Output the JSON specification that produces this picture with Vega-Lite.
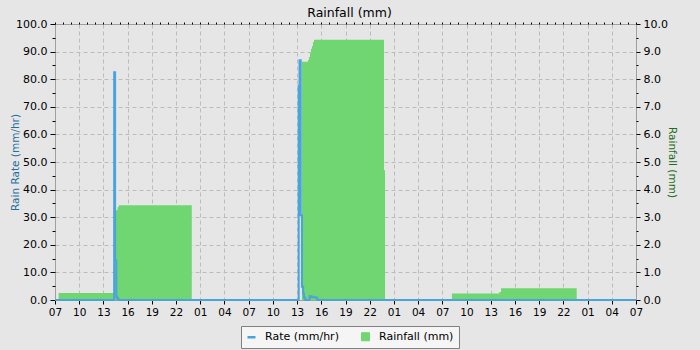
{
  "$schema": "https://vega.github.io/schema/vega-lite/v6.json",
  "autosize": {"type": "none"},
  "width": 581,
  "height": 276,
  "padding": {"left": 55, "top": 24, "right": 64, "bottom": 50},
  "background": "#e6e6e6",
  "title": {"text": "Rainfall (mm)", "fontSize": 12.5, "font": "DejaVu Sans", "fontWeight": "normal", "color": "#000000", "offset": 6, "dy": 7, "anchor": "middle", "dx": 4},
  "config": {
    "view": {"fill": "#e6e6e6", "stroke": "#a0a0a0", "strokeWidth": 1},
    "font": "DejaVu Sans",
    "axis": {"labelFont": "DejaVu Sans", "titleFont": "DejaVu Sans", "labelColor": "#000000", "tickColor": "#000000", "domain": false, "gridColor": "#bcbcbc", "gridDash": [4, 3], "gridWidth": 1, "titleFontWeight": "normal"},
    "legend": {"labelFont": "DejaVu Sans"}
  },
  "datasets": {
    "rainfall": [
      {"hour": 0.45, "rain": 0.25},
      {"hour": 7.45, "rain": 3.25},
      {"hour": 7.75, "rain": 3.37},
      {"hour": 7.9, "rain": 3.43},
      {"hour": 16.95, "rain": 0},
      {"hour": 30.6, "rain": 8.63},
      {"hour": 31.35, "rain": 8.7},
      {"hour": 31.47, "rain": 8.8},
      {"hour": 31.6, "rain": 8.95},
      {"hour": 31.72, "rain": 9.1},
      {"hour": 31.85, "rain": 9.2},
      {"hour": 31.97, "rain": 9.35},
      {"hour": 32.1, "rain": 9.43},
      {"hour": 40.77, "rain": 4.7},
      {"hour": 40.9, "rain": 0},
      {"hour": 49.19, "rain": 0.24},
      {"hour": 55.06, "rain": 0.29},
      {"hour": 55.27, "rain": 0.43},
      {"hour": 64.65, "rain": 0}
    ],
    "rate": [
      {"hour": 0, "rate": 0},
      {"hour": 7.33, "rate": 82.5},
      {"hour": 7.45, "rate": 14.4},
      {"hour": 7.6, "rate": 1.2},
      {"hour": 7.7, "rate": 0.5},
      {"hour": 7.85, "rate": 0},
      {"hour": 30.2, "rate": 77.5},
      {"hour": 30.3, "rate": 86.9},
      {"hour": 30.45, "rate": 30.7},
      {"hour": 30.6, "rate": 4.8},
      {"hour": 30.75, "rate": 2.4},
      {"hour": 30.85, "rate": 0.8},
      {"hour": 31.0, "rate": 0},
      {"hour": 31.55, "rate": 1.4},
      {"hour": 31.8, "rate": 1.0},
      {"hour": 32.25, "rate": 0.8},
      {"hour": 32.5, "rate": 0},
      {"hour": 72, "rate": 0}
    ]
  },
  "layer": [
    {
      "data": {"name": "rainfall"},
      "mark": {"type": "area", "interpolate": "step-after", "opacity": 1},
      "encoding": {
        "x": {
          "field": "hour", "type": "quantitative",
          "scale": {"domain": [0, 72], "nice": false, "zero": false},
          "axis": {
            "title": null,
            "values": [0,3,6,9,12,15,18,21,24,27,30,33,36,39,42,45,48,51,54,57,60,63,66,69,72],
            "labelExpr": "format((datum.value + 7) % 24, '02d')",
            "labelOverlap": false,
            "labelFlush": false,
            "labelFontSize": 10.5,
            "labelPadding": 3,
            "tickSize": 4,
            "grid": true,
            "gridOpacity": {"condition": {"test": "datum.value > 0 && datum.value < 72", "value": 1}, "value": 0}
          }
        },
        "y": {
          "field": "rain", "type": "quantitative",
          "scale": {"domain": [0, 10], "nice": false},
          "axis": {
            "orient": "right",
            "title": "Rainfall (mm)",
            "titleColor": "#226a22",
            "titleFontSize": 10.5,
            "titlePadding": -1,
            "values": [0,0.5,1,1.5,2,2.5,3,3.5,4,4.5,5,5.5,6,6.5,7,7.5,8,8.5,9,9.5,10],
            "labelExpr": "round(datum.value * 2) % 2 === 0 ? format(datum.value, '.1f') : ''",
            "labelFontSize": 11,
            "labelPadding": 3,
            "tickSize": {"condition": {"test": "round(datum.value * 2) % 2 === 0", "value": 4}, "value": 2},
            "grid": false
          }
        },
        "color": {
          "datum": "Rainfall (mm)",
          "type": "nominal",
          "scale": {"domain": ["Rate (mm/hr)", "Rainfall (mm)"], "range": ["#4aa3dc", "#6fd671"]},
          "legend": {
            "title": null,
            "orient": "none",
            "legendX": 186,
            "legendY": 302,
            "direction": "horizontal",
            "fillColor": "#f5f5f5",
            "strokeColor": "#808080",
            "padding": 5,
            "columnPadding": 20,
            "labelFontSize": 11,
            "labelOffset": 8,
            "symbolSize": 64,
            "symbolType": "square",
            "encode": {
              "symbols": {
                "update": {
                  "shape": {"signal": "datum.value === 'Rate (mm/hr)' ? 'stroke' : 'square'"},
                  "fill": {"signal": "datum.value === 'Rate (mm/hr)' ? 'transparent' : '#6fd671'"},
                  "stroke": {"signal": "datum.value === 'Rate (mm/hr)' ? '#4aa3dc' : '#707070'"},
                  "strokeWidth": {"signal": "datum.value === 'Rate (mm/hr)' ? 2.5 : 1"},
                  "opacity": {"value": 1}
                }
              }
            }
          }
        }
      }
    },
    {
      "data": {"name": "rate"},
      "mark": {"type": "line", "interpolate": "step-after", "strokeWidth": 2},
      "encoding": {
        "x": {
          "field": "hour", "type": "quantitative",
          "scale": {"domain": [0, 72], "nice": false, "zero": false},
          "axis": {
            "title": null,
            "values": [0,1,2,3,4,5,6,7,8,9,10,11,12,13,14,15,16,17,18,19,20,21,22,23,24,25,26,27,28,29,30,31,32,33,34,35,36,37,38,39,40,41,42,43,44,45,46,47,48,49,50,51,52,53,54,55,56,57,58,59,60,61,62,63,64,65,66,67,68,69,70,71,72],
            "labels": false,
            "grid": false,
            "tickSize": 2
          }
        },
        "y": {
          "field": "rate", "type": "quantitative",
          "scale": {"domain": [0, 100], "nice": false},
          "axis": {
            "orient": "left",
            "title": "Rain Rate (mm/hr)",
            "titleColor": "#1f6f9f",
            "titleFontSize": 10.5,
            "titlePadding": -5,
            "values": [0,5,10,15,20,25,30,35,40,45,50,55,60,65,70,75,80,85,90,95,100],
            "labelExpr": "datum.value % 10 === 0 ? format(datum.value, '.1f') : ''",
            "labelFontSize": 11,
            "labelPadding": 3,
            "tickSize": {"condition": {"test": "datum.value % 10 === 0", "value": 5}, "value": 3},
            "grid": true,
            "gridOpacity": {"condition": {"test": "datum.value % 10 === 0 && datum.value > 0 && datum.value < 100", "value": 1}, "value": 0}
          }
        },
        "color": {
          "datum": "Rate (mm/hr)",
          "type": "nominal",
          "legend": {
            "title": null,
            "orient": "none",
            "legendX": 186,
            "legendY": 302,
            "direction": "horizontal",
            "fillColor": "#f5f5f5",
            "strokeColor": "#808080",
            "padding": 5,
            "columnPadding": 20,
            "labelFontSize": 11,
            "labelOffset": 8,
            "symbolSize": 64,
            "symbolType": "square",
            "encode": {
              "symbols": {
                "update": {
                  "shape": {"signal": "datum.value === 'Rate (mm/hr)' ? 'stroke' : 'square'"},
                  "fill": {"signal": "datum.value === 'Rate (mm/hr)' ? 'transparent' : '#6fd671'"},
                  "stroke": {"signal": "datum.value === 'Rate (mm/hr)' ? '#4aa3dc' : '#707070'"},
                  "strokeWidth": {"signal": "datum.value === 'Rate (mm/hr)' ? 2.5 : 1"},
                  "opacity": {"value": 1}
                }
              }
            }
          }
        }
      }
    }
  ],
  "resolve": {"scale": {"y": "independent", "x": "independent"}}
}
